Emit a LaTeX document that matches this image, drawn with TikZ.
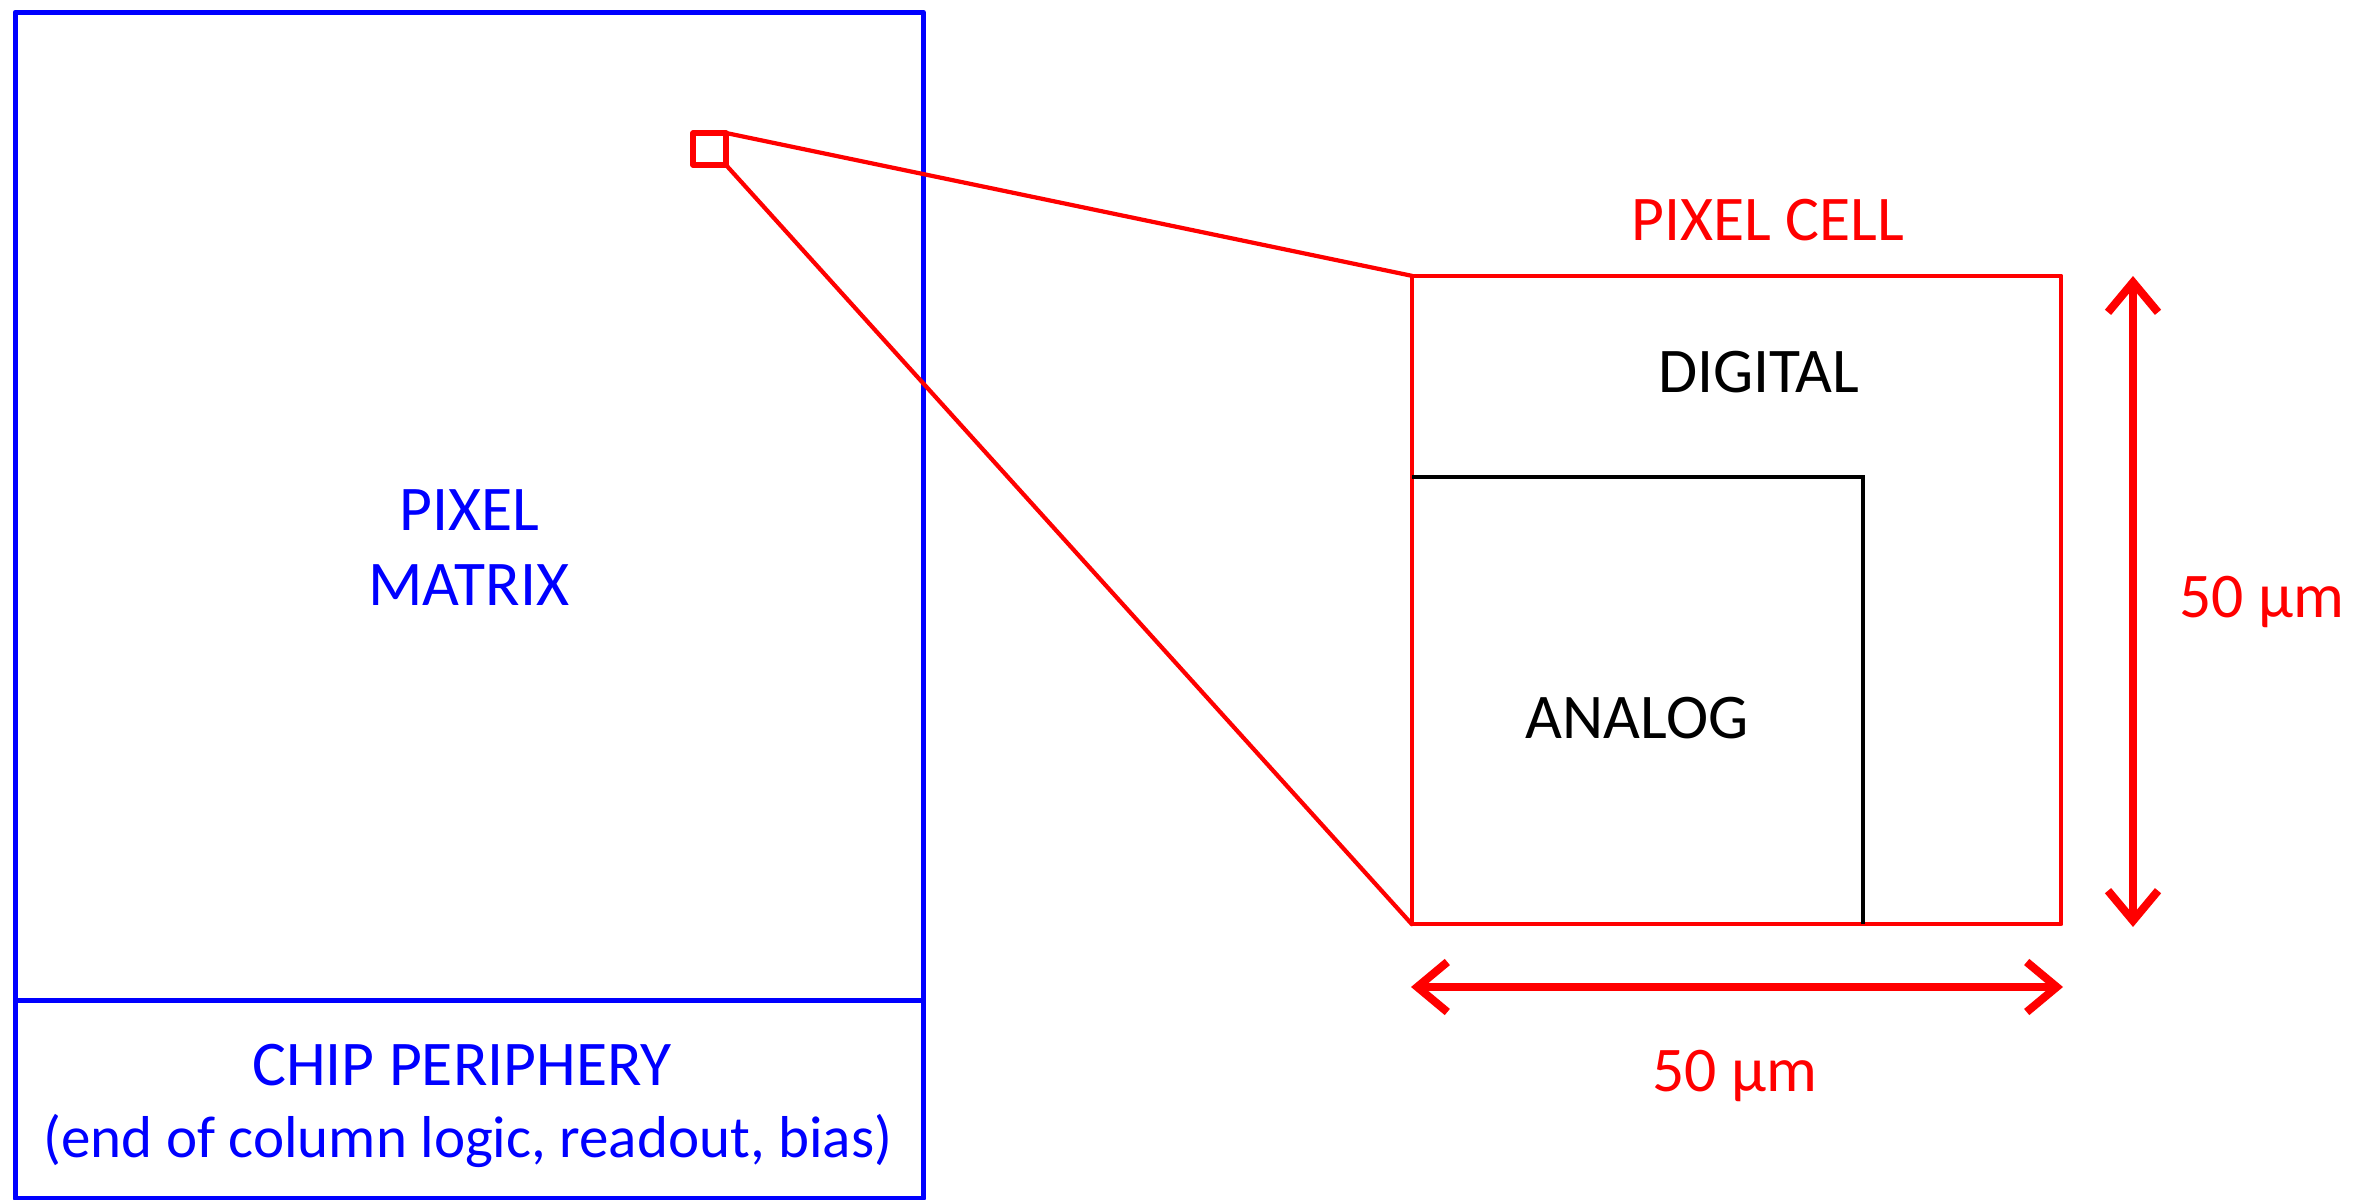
\documentclass[tikz,border=0pt]{standalone}
\usepackage{fontspec}
\setmainfont{Carlito}
\usetikzlibrary{arrows.meta}

\definecolor{chipblue}{RGB}{0,0,255}
\definecolor{cellred}{RGB}{255,0,0}

\tikzset{
  label text/.style={inner sep=0pt, anchor=base, font=\fontsize{18.1}{22}\selectfont},
  note text/.style={inner sep=0pt, anchor=base, font=\fontsize{16.8}{20}\selectfont},
  chipframe/.style={draw=chipblue, line width=1.45pt, line join=round, inner sep=0pt, outer sep=0pt},
  cellframe/.style={draw=cellred, line width=1.2pt, line join=round, inner sep=0pt, outer sep=0pt},
  zoomline/.style={draw=cellred, line width=1.2pt, line cap=round},
  blockline/.style={draw=black, line width=1.15pt},
  dimarrow/.style={draw=cellred, line width=2.3pt,
    {Straight Barb[length=0.3cm, width=0.5cm]}-{Straight Barb[length=0.3cm, width=0.5cm]}}
}

\begin{document}
\begin{tikzpicture}[x=0.01cm, y=-0.01cm]
  \useasboundingbox (0,0) rectangle (2354,1200);

  % chip outline with the pixel matrix and the periphery strip
  \node[chipframe, minimum width=9.075cm, minimum height=11.86cm] (chip) at (469.25,605.5) {};
  \coordinate (divider) at (0,1000.5);
  \draw[chipblue, line width=1.45pt] (chip.west |- divider) -- (chip.east |- divider);

  \node[label text, text=chipblue] (pixel) at (469,530) {PIXEL};
  \node[label text, text=chipblue] (matrix) at (469,605) {MATRIX};
  \node[label text, text=chipblue] (periph) at (462,1085) {CHIP PERIPHERY};
  \node[note text, text=chipblue] (periphnote) at (468,1157) {(end of column logic, readout, bias)};

  % one pixel picked out of the matrix
  \node[cellframe, line width=1.6pt, minimum width=0.33cm, minimum height=0.32cm] (spot) at (709.5,149) {};

  % enlarged pixel cell
  \node[cellframe, minimum width=6.49cm, minimum height=6.48cm] (cell) at (1736.5,600) {};
  \draw[zoomline] (spot.north east) -- (cell.north west);
  \draw[zoomline] (spot.south east) -- (cell.south west);

  % analog block inside the cell
  \coordinate (acorner) at (1863,477);
  \draw[blockline] (cell.west |- acorner) -- (acorner) -- (acorner |- cell.south);

  \node[label text, text=cellred] (celltitle) at (1768,240) {PIXEL CELL};
  \node[label text] (digital) at (1759,392) {DIGITAL};
  \node[label text] (analog) at (1637,738) {ANALOG};

  % cell dimensions
  \coordinate (vtop) at (2133,276);
  \coordinate (vbot) at (2133,927);
  \coordinate (hleft) at (1411,987);
  \coordinate (hright) at (2063,987);
  \draw[dimarrow] (vtop) -- (vbot);
  \draw[dimarrow] (hleft) -- (hright);

  \node[label text, text=cellred] (height) at (2262,617) {50 µm};
  \node[label text, text=cellred] (width) at (1735,1091) {50 µm};
\end{tikzpicture}
\end{document}
